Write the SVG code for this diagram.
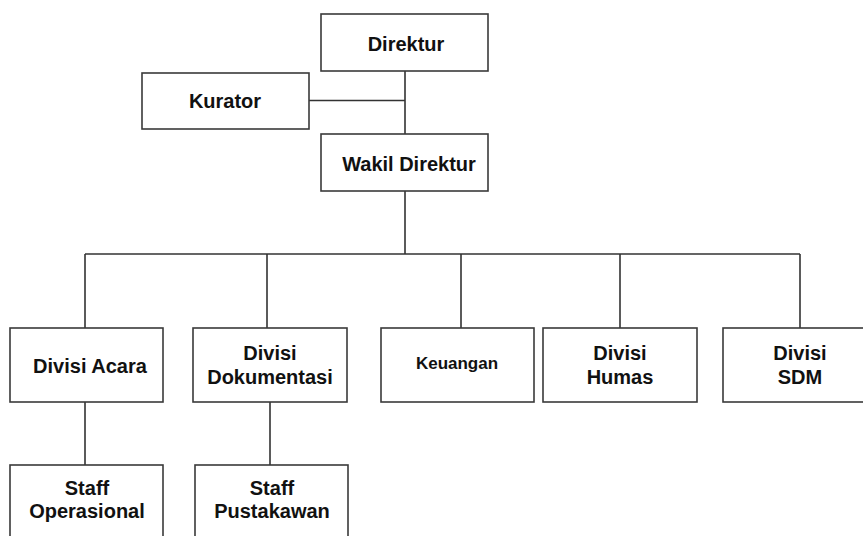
<svg xmlns="http://www.w3.org/2000/svg" width="863" height="536" viewBox="0 0 863 536">
<style>
.box{fill:#fff;stroke:#3a3a3a;stroke-width:1.6}
.t{font-family:"Liberation Sans",Arial,sans-serif;font-weight:bold;font-size:20px;fill:#111;text-anchor:middle}
.s{font-size:17px}
.c{fill:none;stroke:#333;stroke-width:1.6}
</style>
<rect width="863" height="536" fill="#fff"/>
<g id="connectors">
<path class="c" d="M405 71V134M309 100.5H405M405 191V254M85 254H800M85 254V328M267 254V328M461 254V328M620 254V328M800 254V328M85 402V465M270 402V465"/>
</g>
<g id="direktur"><rect class="box" x="321" y="14" width="167" height="57"/><text class="t" x="406" y="51">Direktur</text></g>
<g id="kurator"><rect class="box" x="142" y="73" width="167" height="56"/><text class="t" x="225" y="108">Kurator</text></g>
<g id="wakil"><rect class="box" x="321" y="134" width="167" height="57"/><text class="t" x="409" y="171">Wakil Direktur</text></g>
<g id="acara"><rect class="box" x="10" y="328" width="153" height="74"/><text class="t" x="90" y="373">Divisi Acara</text></g>
<g id="dokumentasi"><rect class="box" x="193" y="328" width="154" height="74"/><text class="t" x="270" y="360">Divisi</text><text class="t" x="270" y="384">Dokumentasi</text></g>
<g id="keuangan"><rect class="box" x="381" y="328" width="153" height="74"/><text class="t s" x="457" y="369">Keuangan</text></g>
<g id="humas"><rect class="box" x="543" y="328" width="154" height="74"/><text class="t" x="620" y="360">Divisi</text><text class="t" x="620" y="384">Humas</text></g>
<g id="sdm"><rect class="box" x="723" y="328" width="154" height="74"/><text class="t" x="800" y="360">Divisi</text><text class="t" x="800" y="384">SDM</text></g>
<g id="operasional"><rect class="box" x="10" y="465" width="153" height="80"/><text class="t" x="87" y="495">Staff</text><text class="t" x="87" y="518">Operasional</text></g>
<g id="pustakawan"><rect class="box" x="195" y="465" width="153" height="80"/><text class="t" x="272" y="495">Staff</text><text class="t" x="272" y="518">Pustakawan</text></g>
</svg>
